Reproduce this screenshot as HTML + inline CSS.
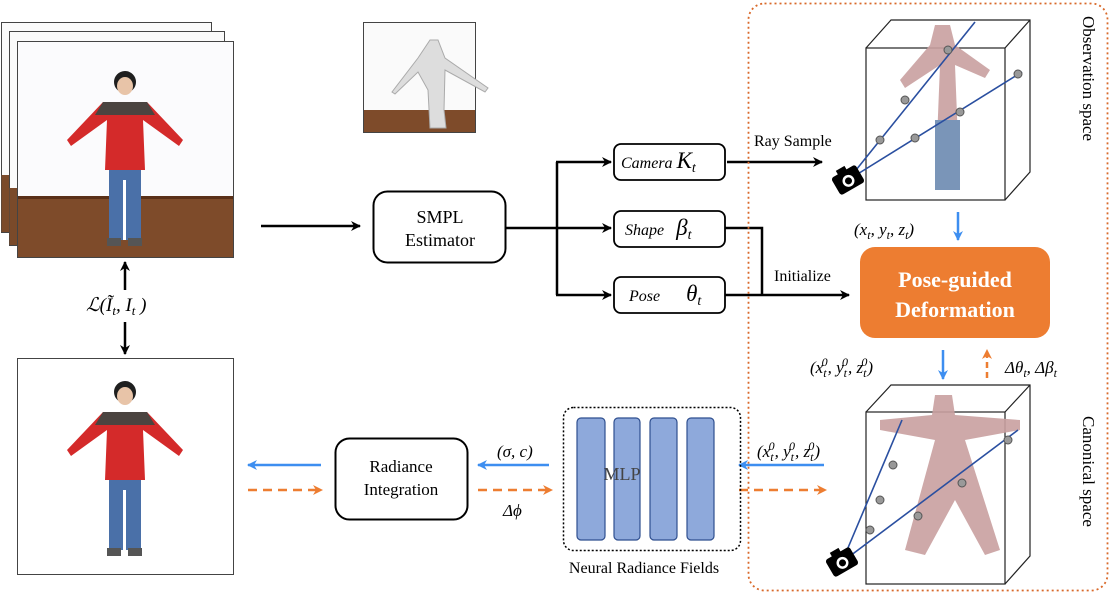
<!DOCTYPE html>
<html><head><meta charset="utf-8"><style>
html,body{margin:0;padding:0;background:#fff;}
svg{display:block;font-family:"Liberation Serif",serif;}
</style></head><body>
<svg width="1112" height="595" viewBox="0 0 1112 595" xmlns="http://www.w3.org/2000/svg">
<defs>
<marker id="ab" markerWidth="10" markerHeight="10" refX="9" refY="5" orient="auto" markerUnits="userSpaceOnUse"><path d="M0,0 L10,5 L0,10 L3,5 z" fill="#000"/></marker>
<marker id="abl" markerWidth="10" markerHeight="10" refX="9" refY="5" orient="auto" markerUnits="userSpaceOnUse"><path d="M0,0 L10,5 L0,10 L3,5 z" fill="#3d8ef0"/></marker>
<marker id="ao" markerWidth="10" markerHeight="10" refX="9" refY="5" orient="auto" markerUnits="userSpaceOnUse"><path d="M0,0 L10,5 L0,10 L3,5 z" fill="#ED7D31"/></marker>
<g id="person">
 <circle cx="0" cy="-78" r="11" fill="#1f1f1f"/>
 <ellipse cx="0" cy="-74" rx="8" ry="9" fill="#e8c4a8"/>
 <path d="M-22,-58 L22,-58 L58,-20 L54,-14 L18,-40 L20,10 L-20,10 L-18,-40 L-54,-14 L-58,-20 Z" fill="#d42a2a"/>
 <path d="M-22,-58 L22,-58 L30,-45 L-30,-45 Z" fill="#4a4440"/>
 <rect x="-16" y="10" width="32" height="70" fill="#4a70a8"/>
 <rect x="-2" y="20" width="3" height="60" fill="#fff"/>
 <rect x="-18" y="78" width="14" height="8" fill="#555"/><rect x="3" y="78" width="14" height="8" fill="#555"/>
</g>
</defs>

<rect x="1.5" y="22.5" width="210" height="210" fill="#fafafa" stroke="#444"/>
<rect x="1.5" y="175" width="210" height="57" fill="#7a4a2a"/>
<rect x="9.5" y="31.5" width="215" height="214" fill="#fafafa" stroke="#444"/>
<rect x="9.5" y="188" width="215" height="57" fill="#7a4a2a"/>
<rect x="17.5" y="41.5" width="216" height="216" fill="#fbfbfd" stroke="#444"/>
<rect x="18" y="198" width="215" height="59" fill="#7e4b2a"/>
<rect x="18" y="196" width="215" height="3" fill="#5a3018"/>
<use href="#person" x="125" y="160"/>

<rect x="363.5" y="22.5" width="112" height="110" fill="#fafafa" stroke="#444"/>
<rect x="364" y="110" width="111" height="22" fill="#7e4b2a"/>
<path d="M430,40 L438,40 L445,58 L488,88 L485,92 L445,70 L444,110 L446,128 L430,128 L428,90 L418,72 L395,94 L392,92 L418,58 Z" fill="#ddd" stroke="#aaa"/>

<rect x="17.5" y="358.5" width="216" height="216" fill="#fff" stroke="#444"/>
<use href="#person" x="125" y="470"/>

<line x1="125" y1="290" x2="125" y2="262" stroke="#000" stroke-width="2.5" marker-end="url(#ab)"/>
<line x1="125" y1="322" x2="125" y2="354" stroke="#000" stroke-width="2.5" marker-end="url(#ab)"/>
<text x="86" y="311" font-size="19" font-style="italic">ℒ(Ĩ<tspan font-size="13" dy="4">t</tspan><tspan dy="-4">, I</tspan><tspan font-size="13" dy="4">t</tspan><tspan dy="-4"> )</tspan></text>

<line x1="261" y1="226" x2="360" y2="226" stroke="#000" stroke-width="2.5" marker-end="url(#ab)"/>
<rect x="373.5" y="191.5" width="132" height="71" rx="14" fill="#fff" stroke="#000" stroke-width="2"/>
<text x="440" y="223" font-size="18" text-anchor="middle">SMPL</text>
<text x="440" y="246" font-size="18" text-anchor="middle">Estimator</text>

<path d="M505,228 L557,228 M557,162 L557,295" stroke="#000" stroke-width="2.5" fill="none"/>
<line x1="556" y1="162" x2="611" y2="162" stroke="#000" stroke-width="2.5" marker-end="url(#ab)"/>
<line x1="556" y1="228" x2="611" y2="228" stroke="#000" stroke-width="2.5" marker-end="url(#ab)"/>
<line x1="556" y1="295" x2="611" y2="295" stroke="#000" stroke-width="2.5" marker-end="url(#ab)"/>
<rect x="614" y="144" width="111" height="36" rx="7" fill="#fff" stroke="#000" stroke-width="1.8"/>
<text x="621" y="168" font-size="16" font-style="italic">Camera <tspan font-size="23">K</tspan><tspan font-size="14" dy="4">t</tspan></text>
<rect x="614" y="211" width="111" height="36" rx="7" fill="#fff" stroke="#000" stroke-width="1.8"/>
<text x="625" y="235" font-size="16" font-style="italic">Shape <tspan dx="8" font-size="23">β</tspan><tspan font-size="14" dy="4">t</tspan></text>
<rect x="614" y="277" width="111" height="36" rx="7" fill="#fff" stroke="#000" stroke-width="1.8"/>
<text x="629" y="301" font-size="16" font-style="italic">Pose <tspan dx="22" font-size="23">θ</tspan><tspan font-size="14" dy="4">t</tspan></text>

<line x1="727" y1="162" x2="822" y2="162" stroke="#000" stroke-width="2.5" marker-end="url(#ab)"/>
<text x="754" y="146" font-size="16">Ray Sample</text>
<path d="M725,228 L762,228 L762,295" stroke="#000" stroke-width="2.5" fill="none"/>
<line x1="725" y1="295" x2="849" y2="295" stroke="#000" stroke-width="2.5" marker-end="url(#ab)"/>
<text x="774" y="281" font-size="16">Initialize</text>

<rect x="748.5" y="3.5" width="359" height="587" rx="16" fill="none" stroke="#d9692a" stroke-width="1.8" stroke-dasharray="2,3"/>

<g stroke="#222" stroke-width="1.2" fill="none">
<rect x="866" y="48" width="139" height="152"/>
<path d="M866,48 L891,20 L1030,20 L1030,172 L1005,200 M1005,48 L1030,20"/>
</g>
<path d="M935,25 L950,25 L955,45 L990,70 L985,78 L955,65 L960,190 L935,190 L940,65 L905,88 L900,80 L930,45 Z" fill="#c9a0a0" opacity="0.9"/>
<rect x="935" y="120" width="25" height="70" fill="#7a95b8"/>
<g stroke="#2a4fa0" stroke-width="1.6"><line x1="848" y1="180" x2="1022" y2="72"/><line x1="848" y1="180" x2="975" y2="22"/></g>
<g fill="#999" stroke="#555"><circle cx="880" cy="140" r="4"/><circle cx="905" cy="100" r="4"/><circle cx="915" cy="138" r="4"/><circle cx="960" cy="112" r="4"/><circle cx="1018" cy="74" r="4"/><circle cx="948" cy="50" r="4"/></g>
<g transform="translate(848,180) rotate(-30)"><rect x="-14" y="-10" width="28" height="20" rx="3" fill="#000"/><rect x="-6" y="-14" width="10" height="5" fill="#000"/><circle cx="0" cy="1" r="6" fill="#fff"/><circle cx="0" cy="1" r="3.5" fill="#000"/></g>
<text font-size="17" transform="translate(1083,16) rotate(90)">Observation space</text>

<text x="854" y="235" font-size="17" font-style="italic">(x<tspan font-size="12" dy="4">t</tspan><tspan dy="-4">, y</tspan><tspan font-size="12" dy="4">t</tspan><tspan dy="-4">, z</tspan><tspan font-size="12" dy="4">t</tspan><tspan dy="-4">)</tspan></text>
<line x1="958" y1="212" x2="958" y2="240" stroke="#3d8ef0" stroke-width="2.5" marker-end="url(#abl)"/>

<rect x="860" y="247" width="190" height="91" rx="15" fill="#ED7D31"/>
<text x="955" y="287" font-size="22" font-weight="bold" fill="#fff" text-anchor="middle">Pose-guided</text>
<text x="955" y="317" font-size="22" font-weight="bold" fill="#fff" text-anchor="middle">Deformation</text>

<text x="810" y="373" font-size="17" font-style="italic">(x<tspan font-size="12" dy="4">t</tspan><tspan font-size="12" dx="-5" dy="-11">0</tspan><tspan dy="7">, y</tspan><tspan font-size="12" dy="4">t</tspan><tspan font-size="12" dx="-5" dy="-11">0</tspan><tspan dy="7">, z</tspan><tspan font-size="12" dy="4">t</tspan><tspan font-size="12" dx="-5" dy="-11">0</tspan><tspan dy="7">)</tspan></text>
<line x1="943" y1="350" x2="943" y2="379" stroke="#3d8ef0" stroke-width="2.5" marker-end="url(#abl)"/>
<line x1="987" y1="378" x2="987" y2="350" stroke="#ED7D31" stroke-width="2.5" stroke-dasharray="6,4" marker-end="url(#ao)"/>
<text x="1005" y="373" font-size="17" font-style="italic">Δθ<tspan font-size="12" dy="4">t</tspan><tspan dy="-4">, Δβ</tspan><tspan font-size="12" dy="4">t</tspan></text>

<g stroke="#222" stroke-width="1.2" fill="none">
<rect x="866" y="412" width="139" height="172"/>
<path d="M866,412 L891,385 L1030,385 L1030,556 L1005,584 M1005,412 L1030,385"/>
</g>
<path d="M935,395 L952,395 L955,415 L1020,420 L1020,430 L965,440 L1000,550 L985,555 L955,500 L925,555 L905,550 L935,440 L880,430 L880,420 L932,415 Z" fill="#c9a0a0" opacity="0.9"/>
<g stroke="#2a4fa0" stroke-width="1.6"><line x1="842" y1="562" x2="1018" y2="430"/><line x1="842" y1="562" x2="902" y2="420"/></g>
<g fill="#999" stroke="#555"><circle cx="870" cy="530" r="4"/><circle cx="880" cy="500" r="4"/><circle cx="893" cy="465" r="4"/><circle cx="918" cy="516" r="4"/><circle cx="962" cy="483" r="4"/><circle cx="1008" cy="440" r="4"/></g>
<g transform="translate(842,562) rotate(-30)"><rect x="-14" y="-10" width="28" height="20" rx="3" fill="#000"/><rect x="-6" y="-14" width="10" height="5" fill="#000"/><circle cx="0" cy="1" r="6" fill="#fff"/><circle cx="0" cy="1" r="3.5" fill="#000"/></g>
<text font-size="17" transform="translate(1083,416) rotate(90)">Canonical space</text>

<text x="757" y="457" font-size="17" font-style="italic">(x<tspan font-size="12" dy="4">t</tspan><tspan font-size="12" dx="-5" dy="-11">0</tspan><tspan dy="7">, y</tspan><tspan font-size="12" dy="4">t</tspan><tspan font-size="12" dx="-5" dy="-11">0</tspan><tspan dy="7">, z</tspan><tspan font-size="12" dy="4">t</tspan><tspan font-size="12" dx="-5" dy="-11">0</tspan><tspan dy="7">)</tspan></text>
<line x1="824" y1="465" x2="739" y2="465" stroke="#3d8ef0" stroke-width="2.5" marker-end="url(#abl)"/>
<line x1="739" y1="490" x2="826" y2="490" stroke="#ED7D31" stroke-width="2.5" stroke-dasharray="9,6" marker-end="url(#ao)"/>

<rect x="563.5" y="407.5" width="177" height="143" rx="10" fill="none" stroke="#000" stroke-width="1.5" stroke-dasharray="2,2"/>
<g fill="#8EA9DB" stroke="#2f4f8f" stroke-width="1.2">
<rect x="577" y="418" width="28" height="122" rx="4"/><rect x="614" y="418" width="26" height="122" rx="4"/>
<rect x="650" y="418" width="27" height="122" rx="4"/><rect x="687" y="418" width="27" height="122" rx="4"/>
</g>
<text x="622" y="480" font-size="18" fill="#444" text-anchor="middle">MLP</text>
<text x="644" y="573" font-size="16" text-anchor="middle">Neural Radiance Fields</text>

<text x="497" y="457" font-size="17" font-style="italic">(σ, c)</text>
<line x1="549" y1="465" x2="478" y2="465" stroke="#3d8ef0" stroke-width="2.5" marker-end="url(#abl)"/>
<line x1="478" y1="490" x2="552" y2="490" stroke="#ED7D31" stroke-width="2.5" stroke-dasharray="9,6" marker-end="url(#ao)"/>
<text x="503" y="516" font-size="17" font-style="italic">Δϕ</text>

<rect x="335.5" y="438.5" width="132" height="81" rx="14" fill="#fff" stroke="#000" stroke-width="2"/>
<text x="401" y="472" font-size="17" text-anchor="middle">Radiance</text>
<text x="401" y="495" font-size="17" text-anchor="middle">Integration</text>

<line x1="321" y1="465" x2="248" y2="465" stroke="#3d8ef0" stroke-width="2.5" marker-end="url(#abl)"/>
<line x1="248" y1="490" x2="322" y2="490" stroke="#ED7D31" stroke-width="2.5" stroke-dasharray="9,6" marker-end="url(#ao)"/>
</svg>
</body></html>
